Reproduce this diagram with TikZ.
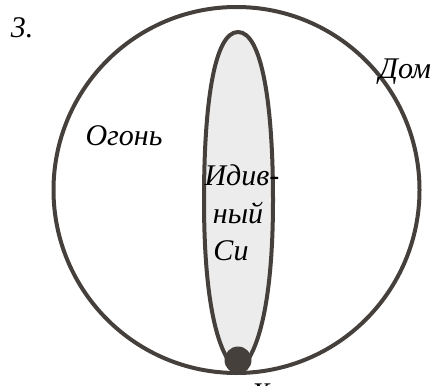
\documentclass[tikz,border=0pt]{standalone}
\usepackage{fontspec}
\setmainfont{Liberation Serif}
\usepackage{tikz}
\usetikzlibrary{positioning}
\definecolor{rim}{HTML}{45403C}
\definecolor{pale}{HTML}{ECECEC}

\begin{document}
\begin{tikzpicture}[x=1pt, y=-1pt,
  rimline/.style={draw=rim, line width=4pt},
  lbl/.style={font=\fontsize{30}{32}\selectfont\itshape, inner sep=0pt, anchor=base}]
\useasboundingbox (0,0) rectangle (438,385);
\draw[rimline] (236.5,190) circle [radius=183];
\filldraw[rimline, fill=pale] (238,32) .. controls (214,32) and (204,105) .. (204,200)
  .. controls (204,295) and (216,355) .. (238,371)
  .. controls (260,355) and (273,295) .. (273,200)
  .. controls (273,105) and (262,32) .. (238,32) -- cycle;
\fill[rim] (238,360) circle [radius=13.5];
\node[lbl] (num) at (22,38) {3.};
\node[lbl] (dom) at (405,78) {Дом};
\node[lbl] (ogon) at (124,145) {Огонь};
\node[lbl] (idiv) at (242,185) {Идив-};
\node[lbl] (nyi) at (238,223) {ный};
\node[lbl] (si) at (231,260) {Си};
\node[lbl] (hum) at (276,403) {Хум};
\end{tikzpicture}
\end{document}
